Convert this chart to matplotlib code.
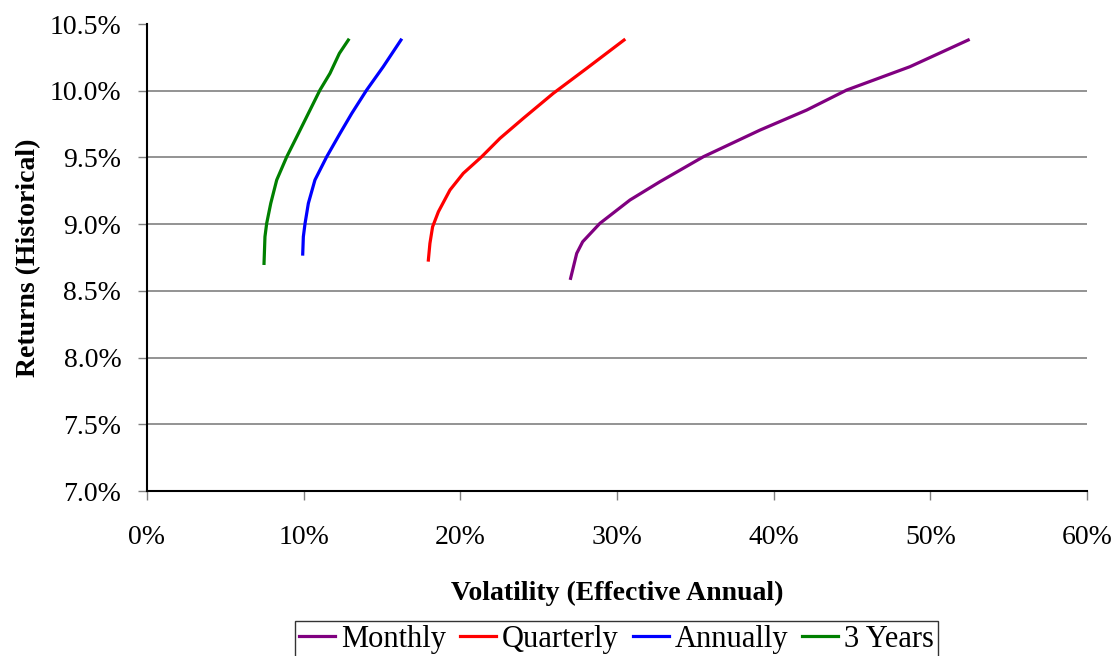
import matplotlib
matplotlib.use("Agg")
from matplotlib import pyplot as plt
from matplotlib.ticker import FuncFormatter, MultipleLocator

# volatility (%) and returns (%)
monthly_vol = [27.04, 27.43, 27.81, 28.91, 30.83, 32.74, 35.51, 39.13, 42.11, 44.66, 48.70, 52.42]
monthly_ret = [8.594, 8.781, 8.868, 9.006, 9.181, 9.318, 9.505, 9.705, 9.855, 10.005, 10.18, 10.38]

quarterly_vol = [17.96, 18.06, 18.23, 18.60, 19.34, 20.19, 21.36, 22.53, 24.02, 25.93, 28.07, 30.45]
quarterly_ret = [8.731, 8.856, 8.98, 9.093, 9.256, 9.381, 9.505, 9.643, 9.793, 9.98, 10.168, 10.38]

annual_vol = [9.94, 9.98, 10.09, 10.30, 10.72, 11.47, 12.32, 13.07, 14.02, 15.08, 16.21]
annual_ret = [8.776, 8.906, 9.006, 9.156, 9.331, 9.505, 9.68, 9.83, 10.005, 10.18, 10.38]

three_year_vol = [7.47, 7.53, 7.64, 7.90, 8.28, 8.92, 9.56, 10.30, 11.04, 11.68, 12.28, 12.85]
three_year_ret = [8.706, 8.906, 9.006, 9.156, 9.331, 9.505, 9.655, 9.83, 10.005, 10.13, 10.28, 10.38]

plt.rcParams['font.family'] = ['Liberation Serif', 'DejaVu Serif']

fig = plt.figure(figsize=(11.17, 6.56), dpi=100)
ax = fig.add_axes([0.1316, 0.2515, 0.8415, 0.7119])

ax.plot(monthly_vol, monthly_ret, color='#800080', lw=2.3, label='Monthly')
ax.plot(quarterly_vol, quarterly_ret, color='#ff0000', lw=2.3, label='Quarterly')
ax.plot(annual_vol, annual_ret, color='#0000ff', lw=2.3, label='Annually')
ax.plot(three_year_vol, three_year_ret, color='#008000', lw=2.3, label='3 Years')

ax.set_xlim(0, 60)
ax.set_ylim(7.0, 10.5)
ax.xaxis.set_major_locator(MultipleLocator(10))
ax.yaxis.set_major_locator(MultipleLocator(0.5))
ax.xaxis.set_major_formatter(FuncFormatter(lambda v, p: f'{v:.0f}%'))
ax.yaxis.set_major_formatter(FuncFormatter(lambda v, p: f'{v:.1f}%'))

for y in [7.5, 8.0, 8.5, 9.0, 9.5, 10.0]:
    ax.axhline(y, color='#808080', lw=1.2, zorder=0)

for s in ['top', 'right']:
    ax.spines[s].set_visible(False)
ax.spines['left'].set_linewidth(1.5)
ax.spines['bottom'].set_linewidth(1.5)
ax.tick_params(direction='out', length=6.5, width=1, color='#808080', labelsize=20)
ax.tick_params(axis='x', pad=18)
ax.tick_params(axis='y', pad=12)

ax.set_xlabel('Volatility (Effective Annual)', fontsize=20, fontweight='bold', labelpad=22)
ax.set_ylabel('Returns (Historical)', fontsize=20, fontweight='bold', labelpad=6)

# legend sits under the plot area, centred on the axes rather than the figure
leg = fig.legend(loc='lower center', bbox_to_anchor=(0.552, -0.002), ncol=4, fontsize=22,
                 frameon=True, fancybox=False, edgecolor='black', handlelength=1.18,
                 handletextpad=0.2, columnspacing=0.45, borderpad=0.12, borderaxespad=0)
leg.get_frame().set_linewidth(1)

fig.savefig('out.png', dpi=100)
